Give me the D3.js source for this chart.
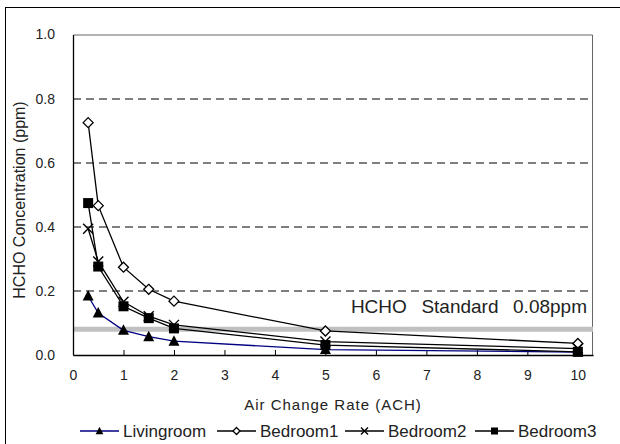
<!DOCTYPE html>
<html>
<head>
<meta charset="utf-8">
<script src="https://cdn.jsdelivr.net/npm/d3@7"></script>
<style>
  body { margin: 0; background: #fff; }
  svg text { font-family: "Liberation Sans", Arial, sans-serif; fill: #222; }
</style>
</head>
<body>
<div id="chart"></div>
<script>

// air change rates (ACH)
var ach = [0.3, 0.5, 1, 1.5, 2, 5, 10];

// HCHO concentration per room (ppm)
var livingroom = [0.184, 0.131, 0.077, 0.057, 0.043, 0.017, 0.009];
var bedroom1   = [0.725, 0.466, 0.274, 0.205, 0.168, 0.075, 0.036];
var bedroom2   = [0.394, 0.292, 0.166, 0.121, 0.094, 0.042, 0.020];
var bedroom3   = [0.474, 0.276, 0.152, 0.115, 0.083, 0.031, 0.010];

var seriesNames = ["Livingroom", "Bedroom1", "Bedroom2", "Bedroom3"];
var xTicks = [0, 1, 2, 3, 4, 5, 6, 7, 8, 9, 10];
var yTicks = [0, 0.2, 0.4, 0.6, 0.8, 1.0];
var standardValue = 0.08;
var standardLabel = "HCHO  Standard  0.08ppm";

var W = 620, H = 444;
var margin = {top: 34.5, right: 27, bottom: 89, left: 73},
    width = W - margin.left - margin.right,
    height = H - margin.top - margin.bottom;

var svg = d3.select("#chart").append("svg")
        .attr("width", W)
        .attr("height", H);

// outer frame (only left and top edges show in the picture)
svg.append("rect")
        .attr("x", 5.5).attr("y", 7.5)
        .attr("width", 700).attr("height", 600)
        .attr("fill", "none")
        .attr("stroke", "#000")
        .attr("stroke-width", 1);

var g = svg.append("g")
        .attr("transform", "translate(" + margin.left + "," + margin.top + ")");

var x = d3.scaleLinear().domain([0, 10.3]).range([0, width]);
var y = d3.scaleLinear().domain([0, 1]).range([height, 0]);

// dashed gridlines
g.selectAll("line.grid")
        .data(yTicks.filter(function(d) { return d > 0 && d < 1; }))
        .enter().append("line")
        .attr("class", "grid")
        .attr("x1", 0).attr("x2", width)
        .attr("y1", function(d) { return Math.round(y(d)) + 0.5; })
        .attr("y2", function(d) { return Math.round(y(d)) + 0.5; })
        .attr("stroke", "#000")
        .attr("stroke-dasharray", "8,5");

// plot area border top/right
g.append("path")
        .attr("d", "M0.5,0.5H" + (width - 0.5) + "V" + height)
        .attr("fill", "none")
        .attr("stroke", "#666");

// standard line
g.append("line")
        .attr("x1", 0).attr("x2", width)
        .attr("y1", y(standardValue)).attr("y2", y(standardValue))
        .attr("stroke", "#c0c0c0")
        .attr("stroke-width", 5);

g.append("text")
        .attr("x", width - 6)
        .attr("y", y(standardValue) - 16)
        .attr("text-anchor", "end")
        .style("font-size", "19px")
        .style("word-spacing", "2px")
        .style("white-space", "pre")
        .text(standardLabel);

// axes
var xAxis = d3.axisBottom(x)
        .tickValues(xTicks)
        .tickSizeInner(-5)
        .tickSizeOuter(0)
        .tickPadding(15)
        .tickFormat(d3.format("d"));

var yAxis = d3.axisLeft(y)
        .tickValues(yTicks)
        .tickSizeInner(0)
        .tickSizeOuter(0)
        .tickPadding(18)
        .tickFormat(d3.format(".1f"));

var gx = g.append("g")
        .attr("transform", "translate(0," + height + ")")
        .call(xAxis);
gx.selectAll("text").style("font-size", "14px").attr("fill", "#222");
gx.selectAll("line").attr("stroke", "#000");
gx.select(".domain").attr("stroke", "#000").attr("stroke-width", 1.3);

var gy = g.append("g").call(yAxis);
gy.selectAll("text").style("font-size", "14px").attr("fill", "#222");
gy.select(".domain").attr("stroke", "#000").attr("stroke-width", 1.3);

// axis titles
svg.append("text")
        .attr("x", margin.left + width / 2)
        .attr("y", 410)
        .attr("text-anchor", "middle")
        .style("font-size", "15px")
        .style("letter-spacing", "1px")
        .text("Air Change Rate (ACH)");

svg.append("text")
        .attr("transform", "translate(25,200) rotate(-90)")
        .attr("text-anchor", "middle")
        .style("font-size", "16px")
        .text("HCHO Concentration (ppm)");

// markers
function drawMarker(sel, kind, s) {
    if (kind === "tri") {
        sel.append("path")
            .attr("d", "M0," + (-s * 0.6) + "L" + (s * 0.55) + "," + (s * 0.45) + "L" + (-s * 0.55) + "," + (s * 0.45) + "Z")
            .attr("fill", "#000");
    } else if (kind === "diamond") {
        sel.append("path")
            .attr("d", "M0," + (-s / 2) + "L" + (s / 2) + ",0L0," + (s / 2) + "L" + (-s / 2) + ",0Z")
            .attr("fill", "#fff").attr("stroke", "#000").attr("stroke-width", 1.3);
    } else if (kind === "cross") {
        sel.append("path")
            .attr("d", "M" + (-s / 2) + "," + (-s / 2) + "L" + (s / 2) + "," + (s / 2) + "M" + (s / 2) + "," + (-s / 2) + "L" + (-s / 2) + "," + (s / 2))
            .attr("stroke", "#000").attr("stroke-width", 1.4);
    } else {
        sel.append("rect")
            .attr("x", -s / 2).attr("y", -s / 2)
            .attr("width", s).attr("height", s)
            .attr("fill", "#000");
    }
}

var series = [
    {name: seriesNames[0], values: livingroom, color: "#000080", marker: "tri"},
    {name: seriesNames[1], values: bedroom1, color: "#000", marker: "diamond"},
    {name: seriesNames[2], values: bedroom2, color: "#000", marker: "cross"},
    {name: seriesNames[3], values: bedroom3, color: "#000", marker: "square"}
];

var line = d3.line()
        .x(function(d) { return x(d[0]); })
        .y(function(d) { return y(d[1]); });

series.forEach(function(s) {
    var pts = ach.map(function(a, i) { return [a, s.values[i]]; });
    g.append("path")
        .datum(pts)
        .attr("d", line)
        .attr("fill", "none")
        .attr("stroke", s.color)
        .attr("stroke-width", 1.3);
    pts.forEach(function(p) {
        var m = g.append("g").attr("transform", "translate(" + x(p[0]) + "," + y(p[1]) + ")");
        drawMarker(m, s.marker, 10);
    });
});

// legend
var legendX = [80, 217, 345, 475];
var legendY = 431;
series.forEach(function(s, i) {
    var lg = svg.append("g").attr("transform", "translate(" + legendX[i] + "," + legendY + ")");
    lg.append("line")
        .attr("x1", 0).attr("x2", 39)
        .attr("y1", 0).attr("y2", 0)
        .attr("stroke", s.color)
        .attr("stroke-width", 1.3);
    var m = lg.append("g").attr("transform", "translate(19.5,0)");
    drawMarker(m, s.marker, 7);
    lg.append("text")
        .attr("x", 43)
        .attr("y", 6)
        .style("font-size", "17px")
        .text(s.name);
});
</script>
</body>
</html>
